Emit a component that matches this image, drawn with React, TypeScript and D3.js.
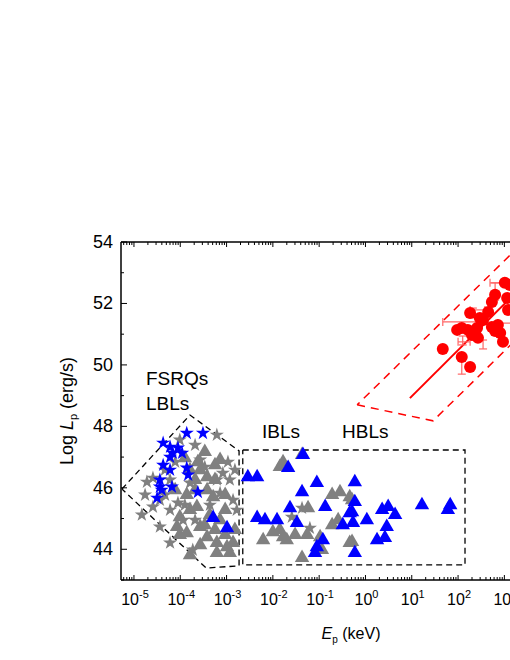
import React from 'react';
import * as d3 from 'd3';

// values are [log10 Ep (keV), log Lp (erg/s)]
const blueStars = [
  [-3.86, 47.78], [-3.51, 47.78], [-4.37, 47.46], [-4.22, 47.33], [-4.05, 47.30],
  [-4.16, 47.13], [-3.96, 47.13], [-4.22, 47.0], [-4.37, 46.74], [-4.22, 46.58],
  [-3.86, 46.65], [-3.83, 46.42], [-4.44, 46.26], [-4.18, 46.03], [-4.44, 46.03],
  [-4.5, 45.67], [-3.62, 45.86], [-4.4, 45.93],
];

const grayStars = [
  [-3.21, 47.72], [-4.72, 46.19], [-4.59, 46.32], [-2.97, 46.84], [-2.86, 45.6],
  [-2.78, 45.28], [-4.83, 45.12], [-4.44, 44.73], [-4.22, 44.21], [-3.73, 43.98],
  [-4.59, 45.38], [-3.14, 45.83], [-3.47, 46.68], [-3.94, 44.95], [-4.05, 45.51],
  [-3.79, 46.16], [-3.21, 46.26], [-3.08, 46.48], [-4.33, 46.58], [-4.11, 46.84],
  [-3.68, 47.39], [-3.57, 46.91], [-3.9, 45.44], [-4.33, 45.77], [-4.22, 45.28],
  [-3.68, 44.95], [-3.36, 45.44], [-2.82, 46.58], [-4.76, 45.77], [-4.44, 45.6],
  [-4.01, 47.56], [-4.22, 46.26], [-2.93, 46.26],
  [-1.37, 45.34], [-1.2, 44.69], [-1.59, 45.05],
];

const grayTriangles = [
  [-3.47, 47.17], [-3.42, 46.35], [-3.29, 45.7], [-3.64, 45.38], [-4.07, 44.73],
  [-3.86, 44.53], [-3.57, 44.73], [-3.42, 44.4], [-3.21, 44.21], [-2.99, 44.07],
  [-2.86, 44.21], [-3.21, 43.88], [-2.93, 43.88], [-3.14, 44.95], [-3.86, 45.77],
  [-3.42, 45.93], [-3.62, 46.84], [-4.01, 45.05], [-3.79, 46.58], [-3.68, 46.26],
  [-3.25, 46.74], [-3.03, 45.28], [-3.25, 44.63], [-3.57, 44.14], [-3.79, 43.81],
  [-2.82, 44.63], [-4.11, 45.93], [-3.36, 45.12], [-3.9, 46.97],
  [-3.57, 46.58], [-3.14, 46.91], [-3.03, 45.77], [-3.79, 45.28], [-3.47, 44.79],
  [-3.03, 44.47], [-4.01, 44.47], [-3.68, 45.93], [-3.25, 46.26],
  [-0.29, 45.6], [-0.29, 44.24], [-1.78, 46.84], [-1.85, 46.68], [-1.37, 47.07],
  [-0.55, 45.86], [-0.72, 45.77], [-0.34, 45.7], [-1.24, 45.34], [-0.59, 44.95],
  [-0.72, 44.79], [-1.85, 44.63], [-2.0, 44.56], [-1.78, 44.4], [-2.21, 44.3],
  [-1.52, 44.47], [-1.26, 44.47], [-0.98, 44.4], [-1.7, 44.3], [-0.34, 44.21],
  [-0.94, 43.98], [-1.37, 43.72],
];

const blueTriangles = [
  [-0.23, 46.19], [-0.23, 45.54], [-0.29, 45.21], [-0.27, 44.86], [0.03, 44.95],
  [0.36, 45.28], [0.49, 45.38], [0.64, 45.12], [0.46, 44.73], [0.25, 44.3],
  [0.42, 44.37], [1.22, 45.44], [1.83, 45.44], [1.78, 45.28], [-0.23, 43.88],
  [-1.35, 47.07], [-1.67, 46.65], [-2.54, 46.35], [-2.34, 46.35], [-1.05, 46.16],
  [-1.37, 45.86], [-0.87, 45.38], [-1.63, 45.34], [-0.34, 45.18], [-2.34, 45.02],
  [-2.17, 44.95], [-1.91, 44.95], [-1.48, 44.86], [-0.49, 44.79], [-0.92, 44.3],
  [-1.05, 44.07], [-1.09, 43.88], [-3.29, 45.02], [-2.99, 44.69],
];

const redCircles = [
  [3.01, 52.67], [2.8, 52.28], [2.73, 52.05], [3.06, 52.18], [2.26, 51.69],
  [2.65, 51.72], [2.54, 51.46], [2.08, 51.2], [2.21, 51.14], [2.41, 51.2],
  [2.73, 51.23], [2.86, 51.3], [2.91, 51.04], [2.43, 50.88], [2.3, 50.97],
  [2.97, 50.75], [1.67, 50.52], [2.08, 50.26], [2.26, 49.93], [1.98, 51.14],
  [2.47, 51.53], [3.12, 52.6], [3.08, 51.79], [2.8, 51.1],
];

// horizontal error bars: [logL, logE low, logE high]
const redXErr = [[51.4, 1.67, 2.47], [51.79, 2.26, 2.58], [52.67, 2.69, 3.12], [51.36, 2.86, 3.25], [50.75, 2.0, 2.26]];
// vertical error bars: [logE, logL low, logL high]
const redYErr = [[2.8, 52.11, 52.67], [2.08, 49.7, 50.26], [2.1, 50.65, 50.94], [2.54, 50.52, 50.81], [2.32, 51.53, 51.85]];

const fitLine = [[0.96, 48.92], [3.4, 52.58]];
const redBand = [[-0.18, 48.7], [1.46, 48.18], [3.8, 51.63], [3.8, 54.57]];
const lblRegion = [[-5.26, 45.96], [-3.79, 48.37], [-2.73, 47.2], [-2.73, 43.46], [-3.44, 43.39]];
const hblBox = [[-2.65, 47.23], [2.15, 47.23], [2.15, 43.49], [-2.65, 43.49]];

const xDecades = [-5, -4, -3, -2, -1, 0, 1, 2, 3];
const yMajor = [44, 46, 48, 50, 52, 54];
const yMinor = [43, 45, 47, 49, 51, 53];

const left = 121, top = 242, bottom = 580;
const font = 'Liberation Sans, Arial, sans-serif';

export default function App() {
  const x = d3.scaleLog().domain([10 ** -5.28, 10 ** 3.6]).range([left, left + 8.88 * 46.3]);
  const y = d3.scaleLinear().domain([43, 54]).range([bottom, top]);
  const right = x.range()[1];
  const px = (d: number[]) => x(10 ** d[0]);
  const py = (d: number[]) => y(d[1]);
  const poly = (pts: number[][]) => d3.line<number[]>().x(px).y(py)(pts.concat([pts[0]])) as string;

  const star = d3.symbol(d3.symbolStar, 62)() as string;
  const tri = d3.symbol(d3.symbolTriangle, 90)() as string;

  const minorX: number[] = [];
  for (let d = -6; d <= 3; d++) {
    for (let k = 2; k <= 9; k++) {
      const v = k * 10 ** d;
      if (v >= x.domain()[0] && v <= x.domain()[1]) minorX.push(v);
    }
  }

  return (
    <svg width={510} height={660} style={{ position: 'absolute', left: 0, top: 0, background: '#fff' }} fontFamily={font}>
      <defs>
        <clipPath id="plot">
          <rect x={left} y={top} width={right - left} height={bottom - top} />
        </clipPath>
      </defs>

      <g clipPath="url(#plot)">
        <path d={poly(lblRegion)} fill="none" stroke="#000" strokeWidth={1.3} strokeDasharray="6,4" />
        <path d={poly(hblBox)} fill="none" stroke="#000" strokeWidth={1.3} strokeDasharray="6,4" />
        <path d={poly(redBand)} fill="none" stroke="#ff0000" strokeWidth={1.5} strokeDasharray="8,6" />
        <line x1={px(fitLine[0])} y1={py(fitLine[0])} x2={px(fitLine[1])} y2={py(fitLine[1])} stroke="#ff0000" strokeWidth={2} />

        {grayStars.map((d, i) => (
          <path key={'gs' + i} d={star} transform={`translate(${px(d)},${py(d)})`} fill="#808080" />
        ))}
        {grayTriangles.map((d, i) => (
          <path key={'gt' + i} d={tri} transform={`translate(${px(d)},${py(d)})`} fill="#808080" />
        ))}
        {blueStars.map((d, i) => (
          <path key={'bs' + i} d={star} transform={`translate(${px(d)},${py(d)})`} fill="#0000ff" />
        ))}
        {blueTriangles.map((d, i) => (
          <path key={'bt' + i} d={tri} transform={`translate(${px(d)},${py(d)})`} fill="#0000ff" />
        ))}

        <g stroke="#ff6666" strokeWidth={1.2}>
          {redXErr.map((d, i) => {
            const yy = y(d[0]), x1 = x(10 ** d[1]), x2 = x(10 ** d[2]);
            return (
              <g key={'xe' + i}>
                <line x1={x1} x2={x2} y1={yy} y2={yy} />
                <line x1={x1} x2={x1} y1={yy - 4} y2={yy + 4} />
                <line x1={x2} x2={x2} y1={yy - 4} y2={yy + 4} />
              </g>
            );
          })}
          {redYErr.map((d, i) => {
            const xx = x(10 ** d[0]), y1 = y(d[1]), y2 = y(d[2]);
            return (
              <g key={'ye' + i}>
                <line x1={xx} x2={xx} y1={y1} y2={y2} />
                <line x1={xx - 4} x2={xx + 4} y1={y1} y2={y1} />
                <line x1={xx - 4} x2={xx + 4} y1={y2} y2={y2} />
              </g>
            );
          })}
        </g>
        {redCircles.map((d, i) => (
          <circle key={'rc' + i} cx={px(d)} cy={py(d)} r={6} fill="#ff0000" />
        ))}
      </g>

      {/* axes frame */}
      <g stroke="#000" strokeWidth={1.5} fill="none">
        <line x1={left} x2={left} y1={top} y2={bottom} />
        <line x1={left} x2={right} y1={bottom} y2={bottom} />
        <line x1={left} x2={right} y1={top} y2={top} />
      </g>
      <g stroke="#000" strokeWidth={1}>
        {xDecades.map((d) => (
          <g key={'xt' + d}>
            <line x1={x(10 ** d)} x2={x(10 ** d)} y1={bottom} y2={bottom - 5} />
            <line x1={x(10 ** d)} x2={x(10 ** d)} y1={top} y2={top + 5} />
          </g>
        ))}
        {minorX.map((v, i) => (
          <g key={'xm' + i}>
            <line x1={x(v)} x2={x(v)} y1={bottom} y2={bottom - 3} />
            <line x1={x(v)} x2={x(v)} y1={top} y2={top + 3} />
          </g>
        ))}
        {yMajor.map((v) => (
          <line key={'ym' + v} x1={left} x2={left + 6} y1={y(v)} y2={y(v)} />
        ))}
        {yMinor.map((v) => (
          <line key={'yn' + v} x1={left} x2={left + 3} y1={y(v)} y2={y(v)} />
        ))}
      </g>

      {xDecades.map((d) => (
        <text key={'xl' + d} x={x(10 ** d) + 1} y={605} fontSize={16} textAnchor="middle">
          10<tspan fontSize={11} dy={-7}>{d}</tspan>
        </text>
      ))}
      {yMajor.map((v) => (
        <text key={'yl' + v} x={113} y={y(v) + 6} fontSize={18} textAnchor="end">{v}</text>
      ))}

      <text x={351} y={639} fontSize={16} textAnchor="middle">
        <tspan fontStyle="italic">E</tspan>
        <tspan fontSize={10} dy={4}>p</tspan>
        <tspan dy={-4}> (keV)</tspan>
      </text>
      <text transform={`translate(73,${(top + bottom) / 2}) rotate(-90)`} fontSize={18} textAnchor="middle">
        Log <tspan fontStyle="italic">L</tspan>
        <tspan fontSize={11} dy={4}>p</tspan>
        <tspan dy={-4}> (erg/s)</tspan>
      </text>

      <text x={146} y={385} fontSize={19}>FSRQs</text>
      <text x={146} y={410} fontSize={19}>LBLs</text>
      <text x={262} y={438} fontSize={19}>IBLs</text>
      <text x={342} y={438} fontSize={19}>HBLs</text>
    </svg>
  );
}
